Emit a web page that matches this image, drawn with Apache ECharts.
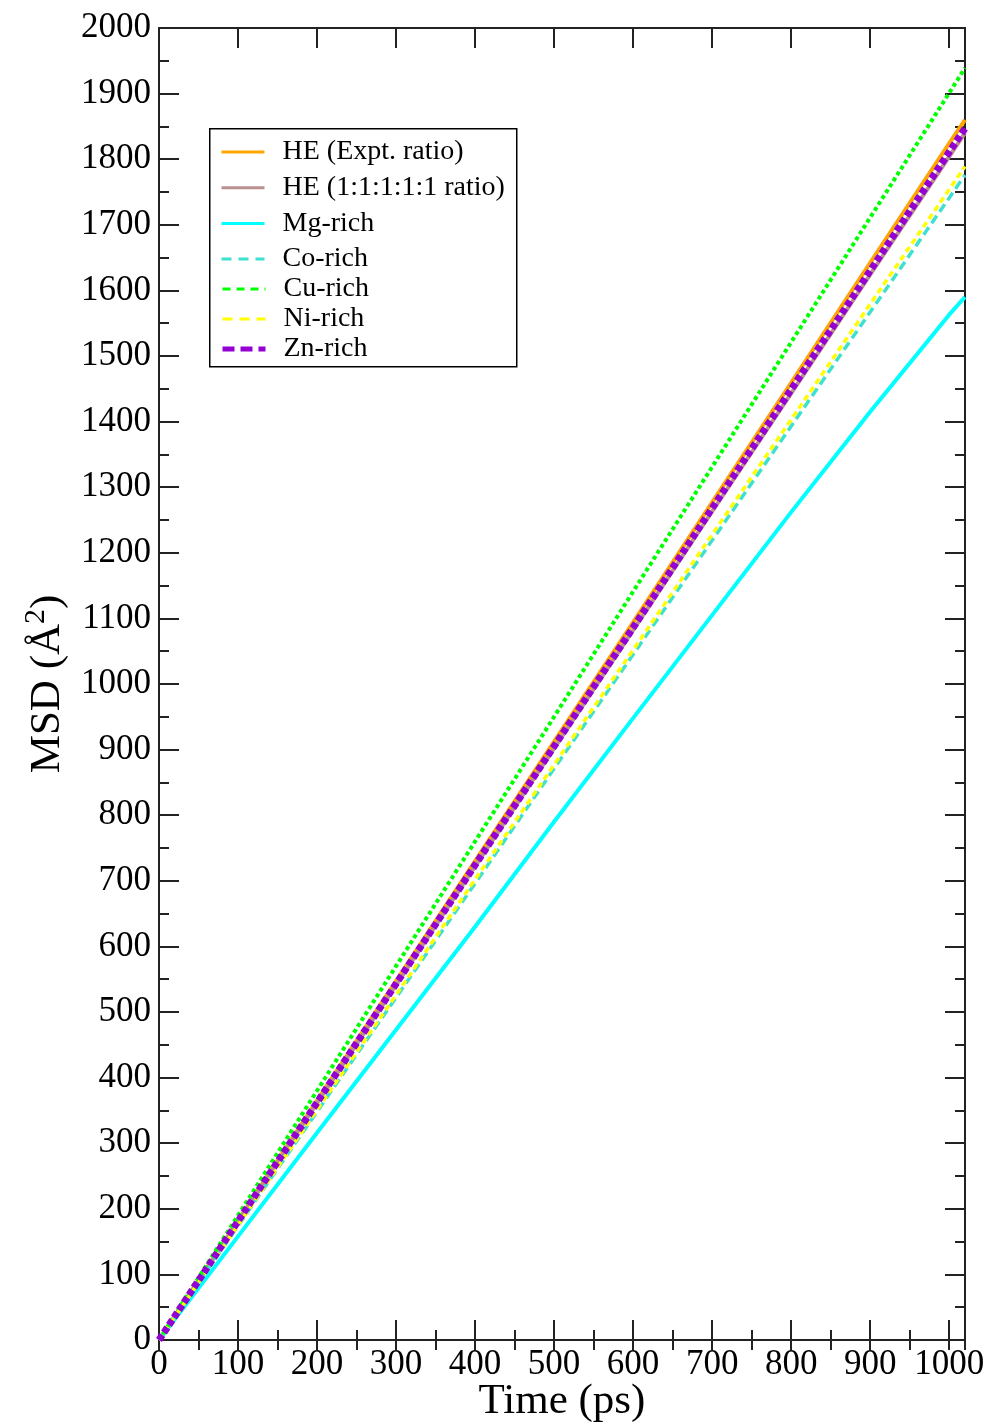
<!DOCTYPE html>
<html>
<head>
<meta charset="utf-8">
<script src="https://cdn.jsdelivr.net/npm/echarts@6/dist/echarts.min.js"></script>
<style>
html,body{margin:0;padding:0;background:#fff;}
#chart{width:992px;height:1425px;}
</style>
</head>
<body>
<div id="chart"></div>
<script>
// ---- data ----
const timePs = [0, 100, 200, 300, 400, 500, 600, 700, 800, 900, 1000, 1020];
const heExpt  = [0, 182, 365, 547, 730, 912, 1094, 1277, 1459, 1642, 1824, 1860];
const he11111 = [0, 180, 361, 541, 722, 902, 1082, 1263, 1443, 1624, 1804, 1840];
const mgRich  = [0, 158, 316, 473, 630, 790, 948, 1105, 1262, 1415, 1563, 1590];
const coRich  = [0, 174, 348, 522, 696, 871, 1045, 1219, 1393, 1567, 1741, 1776];
const cuRich  = [0, 190, 380, 570, 760, 950, 1141, 1331, 1521, 1711, 1901, 1939];
const niRich  = [0, 175, 351, 526, 702, 877, 1052, 1228, 1403, 1579, 1754, 1789];
const znRich  = [0, 181, 362, 543, 724, 905, 1086, 1268, 1449, 1630, 1811, 1847];
const seriesNames = ['HE (Expt. ratio)', 'HE (1:1:1:1:1 ratio)', 'Mg-rich', 'Co-rich', 'Cu-rich', 'Ni-rich', 'Zn-rich'];

const pair = ys => timePs.map((t, i) => [t, ys[i]]);
const FONT = 'Liberation Serif';

const styles = [
  {color: '#FFA500', width: 4, type: 'solid'},
  {color: '#BC8F8F', width: 4, type: 'solid'},
  {color: '#00FFFF', width: 4, type: 'solid'},
  {color: '#40E0D0', width: 3.5, type: [9, 5]},
  {color: '#00FF00', width: 4, type: [4, 3]},
  {color: '#FFFF00', width: 3.5, type: [6, 4]},
  {color: '#9400D3', width: 7, type: [6, 3]}
];
const values = [heExpt, he11111, mgRich, coRich, cuRich, niRich, znRich];

const series = seriesNames.map((n, i) => ({
  name: n,
  type: 'line',
  xAxisIndex: 0,
  yAxisIndex: 0,
  data: pair(values[i]),
  symbol: 'none',
  showSymbol: false,
  color: styles[i].color,
  lineStyle: {color: styles[i].color, width: styles[i].width, type: styles[i].type},
  z: 2 + i
}));

const tickLine = {color: '#222', width: 2};
const plain = v => String(v);
const legendItems = seriesNames.map((n, i) => ({
  name: n,
  lineStyle: {width: i === 6 ? 5 : 3, type: i === 6 ? [12, 6] : (i === 4 ? [8, 6] : (i >= 3 ? [10, 7] : 'solid'))}
}));
const legendCommon = {
  orient: 'vertical',
  left: 220,
  padding: 0,
  itemWidth: 43,
  itemHeight: 14,
  itemStyle: {opacity: 0},
  lineStyle: {width: 3},
  textStyle: {fontFamily: FONT, fontSize: 28, color: '#000', lineHeight: 30, padding: [0, 0, 0, 13]}
};

const option = {
  animation: false,
  backgroundColor: '#fff',
  grid: {left: 159, top: 28, right: 27, bottom: 85, containLabel: false, outerBoundsMode: 'none'},
  legend: [
    Object.assign({}, legendCommon, {top: 137, itemGap: 5.7, data: legendItems.slice(0, 4)}),
    Object.assign({}, legendCommon, {top: 274, itemGap: 0, data: legendItems.slice(4)})
  ],
  graphic: [{
    type: 'rect', left: 209, top: 128, z: 0,
    shape: {width: 307, height: 238},
    style: {fill: '#fff', stroke: '#000', lineWidth: 1.5}
  }],
  xAxis: [
    {type: 'value', position: 'bottom', min: 0, max: 1020, interval: 100,
     name: 'Time (ps)', nameLocation: 'middle', nameGap: 40, nameMoveOverlap: false,
     nameTextStyle: {fontFamily: FONT, fontSize: 43, color: '#000'},
     axisLine: {show: true, onZero: false, lineStyle: {color: '#222', width: 2}},
     axisTick: {show: true, inside: true, length: 20, lineStyle: tickLine},
     axisLabel: {fontFamily: FONT, fontSize: 35, color: '#000', margin: 7, showMaxLabel: false, formatter: plain},
     splitLine: {show: false}},
    {type: 'value', position: 'bottom', min: 0, max: 1020, interval: 50,
     axisLine: {show: false}, axisLabel: {show: false}, splitLine: {show: false},
     axisTick: {show: true, inside: true, length: 10, lineStyle: tickLine}},
    {type: 'value', position: 'top', min: 0, max: 1020, interval: 100,
     axisLine: {show: true, onZero: false, lineStyle: {color: '#222', width: 2}},
     axisLabel: {show: false}, splitLine: {show: false},
     axisTick: {show: true, inside: true, length: 20, lineStyle: tickLine}},
    {type: 'value', position: 'top', min: 0, max: 1020, interval: 50,
     axisLine: {show: false}, axisLabel: {show: false}, splitLine: {show: false},
     axisTick: {show: true, inside: true, length: 10, lineStyle: tickLine}}
  ],
  yAxis: [
    {type: 'value', position: 'left', min: 0, max: 2000, interval: 100,
     name: 'MSD (Å{s|2})', nameLocation: 'middle', nameGap: 84,
     nameTextStyle: {fontFamily: FONT, fontSize: 43, color: '#000',
       rich: {s: {fontFamily: FONT, fontSize: 30, color: '#000', padding: [0, 0, 24, 0]}}},
     axisLine: {show: true, onZero: false, lineStyle: {color: '#222', width: 2}},
     axisTick: {show: true, inside: true, length: 20, lineStyle: tickLine},
     minorTick: {show: true, splitNumber: 2, length: 10, lineStyle: tickLine},
     axisLabel: {fontFamily: FONT, fontSize: 35, color: '#000', margin: 8, formatter: plain},
     splitLine: {show: false}, minorSplitLine: {show: false}},
    {type: 'value', position: 'right', min: 0, max: 2000, interval: 100,
     axisLine: {show: true, onZero: false, lineStyle: {color: '#222', width: 2}},
     axisTick: {show: true, inside: true, length: 20, lineStyle: tickLine},
     minorTick: {show: true, splitNumber: 2, length: 10, lineStyle: tickLine},
     axisLabel: {show: false}, splitLine: {show: false}}
  ],
  series: series
};

const chart = echarts.init(document.getElementById('chart'), null, {renderer: 'canvas'});
chart.setOption(option);
</script>
</body>
</html>
